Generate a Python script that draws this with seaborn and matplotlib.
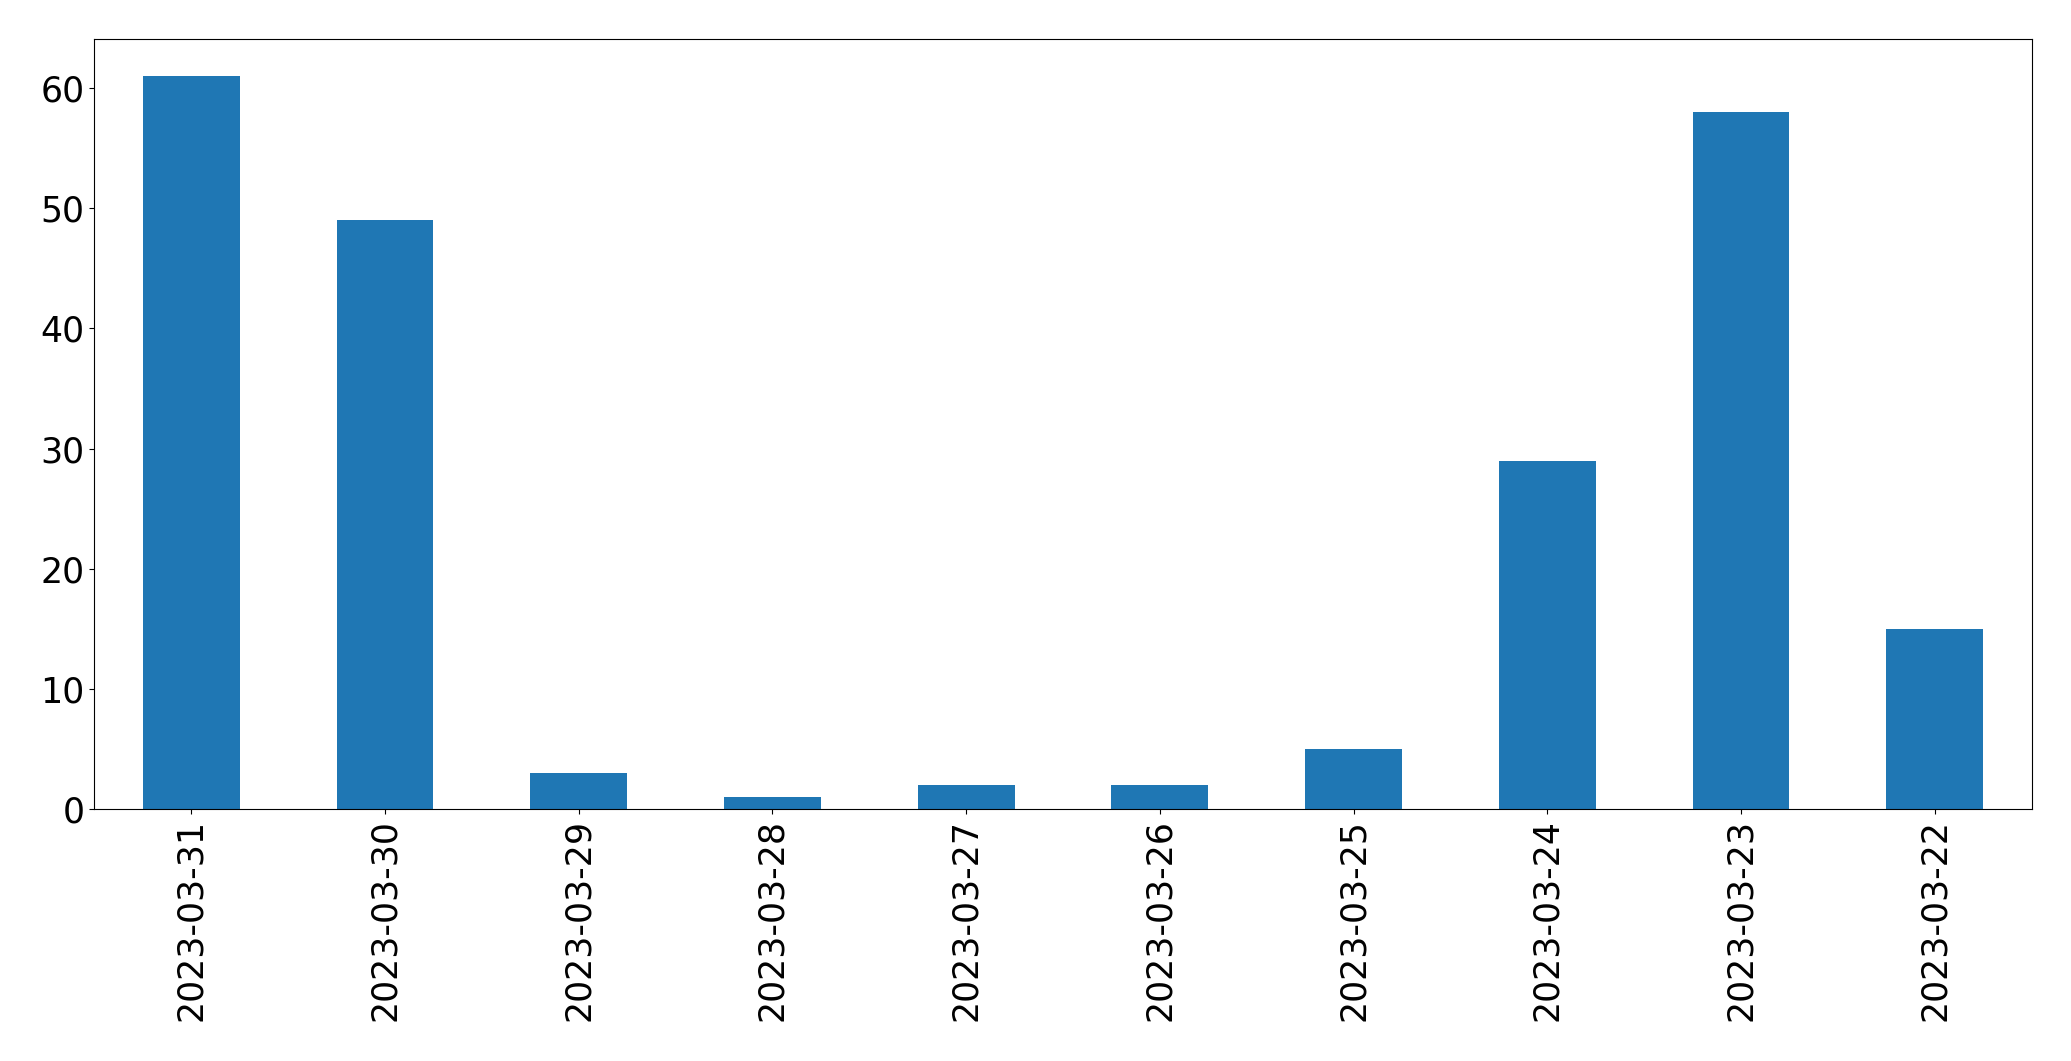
import numpy as np
import pandas as pd
import matplotlib
matplotlib.use("Agg")
import matplotlib.pyplot as plt
import seaborn as sns

# counts per date, in the order shown on the chart
dates = ["2023-03-31", "2023-03-30", "2023-03-29", "2023-03-28", "2023-03-27",
         "2023-03-26", "2023-03-25", "2023-03-24", "2023-03-23", "2023-03-22"]
counts = [61, 49, 3, 1, 2, 2, 5, 29, 58, 15]

df = pd.DataFrame({"date": dates, "count": counts})

plt.rcParams['font.family'] = ['DejaVu Sans']
fig, ax = plt.subplots(figsize=(20.71, 10.61), dpi=100)
sns.barplot(x="date", y="count", data=df, order=dates, color="#1f77b4",
            saturation=1, width=0.5, ax=ax)

ax.set_xlim(-0.5, len(dates) - 0.5)
ax.set_ylim(0, max(counts) * 1.05)
ax.set_xlabel("")
ax.set_ylabel("")
ax.tick_params(axis='both', labelsize=25)
plt.xticks(rotation=90)

plt.subplots_adjust(left=0.0456, right=0.981, top=0.9628, bottom=0.2375)
plt.savefig("out.png", dpi=100)
